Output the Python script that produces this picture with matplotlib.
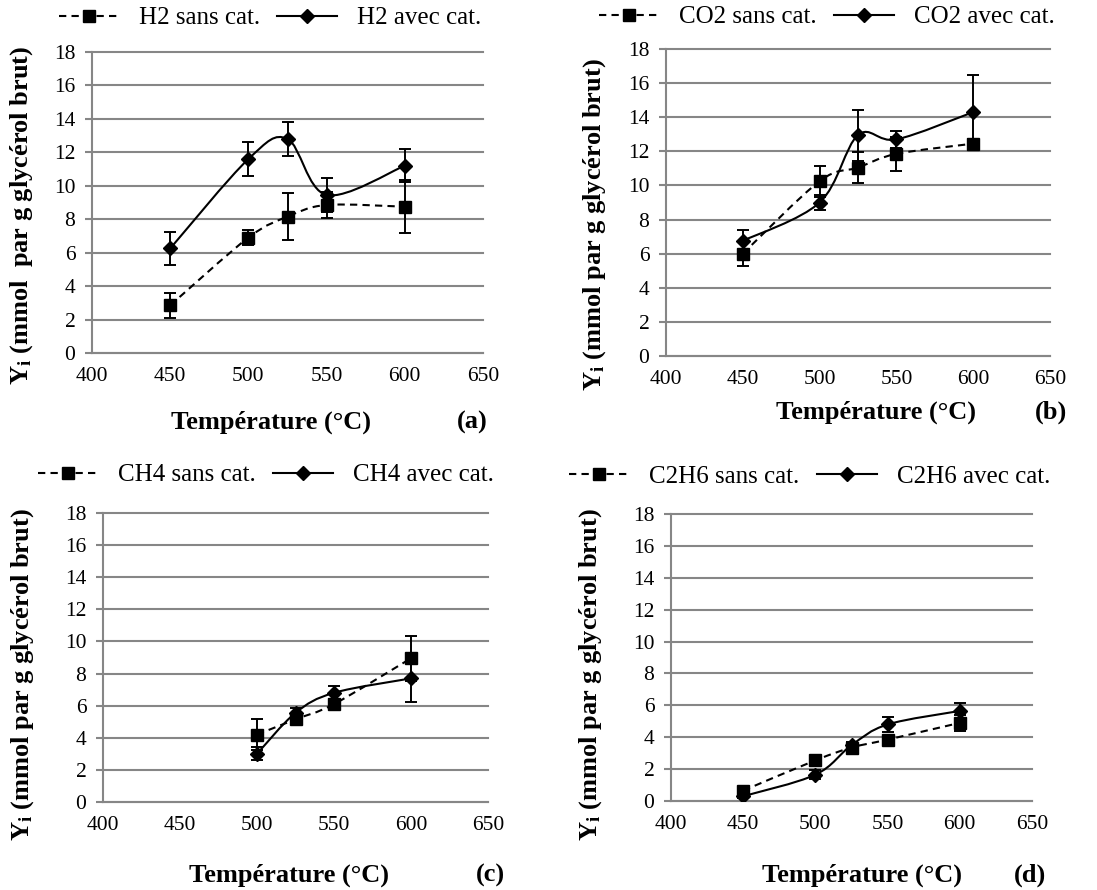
import numpy as np
import matplotlib
matplotlib.use('Agg')
import matplotlib.pyplot as plt
from matplotlib.path import Path
from matplotlib.patches import PathPatch
from matplotlib.lines import Line2D

plt.rcParams['font.family'] = ['Liberation Serif', 'DejaVu Serif']
plt.rcParams['mathtext.fontset'] = 'custom'
plt.rcParams['mathtext.rm'] = 'Liberation Serif'
plt.rcParams['mathtext.bf'] = 'Liberation Serif:bold'
plt.rcParams['mathtext.it'] = 'Liberation Serif:italic'

# ---------------- data ----------------
temp_h2 = [450, 500, 525, 550, 600]
h2_sans = [2.85, 6.9, 8.15, 8.85, 8.75]
h2_sans_err = [0.75, 0.45, 1.4, 0.75, 1.6]
h2_avec = [6.25, 11.6, 12.8, 9.45, 11.2]
h2_avec_err = [1.0, 1.0, 1.0, 1.0, 1.0]

temp_co2 = [450, 500, 525, 550, 600]
co2_sans = [6.0, 10.25, 11.05, 11.85, 12.45]
co2_sans_err = [0.75, 0.9, 0.9, 1.0, 0.3]
co2_avec = [6.75, 9.0, 12.95, 12.7, 14.3]
co2_avec_err = [0.65, 0.45, 1.5, 0.5, 2.2]

temp_ch4 = [500, 525, 550, 600]
ch4_sans = [4.2, 5.15, 6.1, 8.95]
ch4_sans_err = [0.95, 0.3, 0.3, 1.4]
ch4_avec = [3.0, 5.55, 6.8, 7.7]
ch4_avec_err = [0.4, 0.3, 0.45, 1.45]

temp_c2h6 = [450, 500, 525, 550, 600]
c2h6_sans = [0.65, 2.55, 3.35, 3.85, 4.9]
c2h6_sans_err = [0.15, 0.15, 0.2, 0.2, 0.5]
c2h6_avec = [0.3, 1.65, 3.5, 4.8, 5.65]
c2h6_avec_err = [0.1, 0.3, 0.2, 0.45, 0.5]

gas_names = ['H2', 'CO2', 'CH4', 'C2H6']
panel_tags = ['(a)', '(b)', '(c)', '(d)']
x_ticks = [400, 450, 500, 550, 600, 650]
y_ticks = [0, 2, 4, 6, 8, 10, 12, 14, 16, 18]

series = [
    (temp_h2, h2_sans, h2_sans_err, h2_avec, h2_avec_err),
    (temp_co2, co2_sans, co2_sans_err, co2_avec, co2_avec_err),
    (temp_ch4, ch4_sans, ch4_sans_err, ch4_avec, ch4_avec_err),
    (temp_c2h6, c2h6_sans, c2h6_sans_err, c2h6_avec, c2h6_avec_err),
]

# ---------------- layout (pixels) ----------------
W, H = 1097, 890
axes_px = [(92, 483, 52, 353), (666, 1050, 49, 356),
           (103, 488, 513, 802), (671, 1032, 514, 801)]
legend_px = [(270, 18), (827, 17), (266, 475), (810, 477)]
xlabel_px = [(271, 422), (876, 412), (289, 875), (862, 875)]
tag_px = [(472, 422), (1051, 412), (490, 875), (1030, 875)]
ylabel_px = [(22, 215), (595, 225), (23, 675), (591, 675)]
ylabel_texts = [r'$\mathbf{Y_i}$ (mmol  par g glycérol brut)',
                r'$\mathbf{Y_i}$ (mmol par g glycérol brut)',
                r'$\mathbf{Y_i}$ (mmol par g glycérol brut)',
                r'$\mathbf{Y_i}$ (mmol par g glycérol brut)']

GRID = '#868686'
DASH = (0, (3.5, 2.5))


def smooth_path(x, y):
    x = np.asarray(x, float)
    y = np.asarray(y, float)
    n = len(x)
    verts = [(x[0], y[0])]
    codes = [Path.MOVETO]
    for i in range(n - 1):
        xp, yp = (x[i - 1], y[i - 1]) if i > 0 else (x[i], y[i])
        xn, yn = (x[i + 2], y[i + 2]) if i + 2 < n else (x[i + 1], y[i + 1])
        c1 = (x[i] + (x[i + 1] - xp) / 6.0, y[i] + (y[i + 1] - yp) / 6.0)
        c2 = (x[i + 1] - (xn - x[i]) / 6.0, y[i + 1] - (yn - y[i]) / 6.0)
        verts += [c1, c2, (x[i + 1], y[i + 1])]
        codes += [Path.CURVE4] * 3
    return Path(verts, codes)


fig = plt.figure(figsize=(W / 100, H / 100), dpi=100)

for k in range(4):
    l, r, t, b = axes_px[k]
    ax = fig.add_axes([l / W, 1 - b / H, (r - l) / W, (b - t) / H])
    temps, s_y, s_e, a_y, a_e = series[k]

    ax.set_xlim(400, 650)
    ax.set_ylim(0, 18)
    ax.set_xticks(x_ticks)
    ax.set_yticks(y_ticks)
    ax.yaxis.grid(True, color=GRID, linewidth=1.5)
    ax.set_axisbelow(True)
    for gl in ax.get_ygridlines():
        gl.set_clip_on(False)
    for sp in ['top', 'right']:
        ax.spines[sp].set_visible(False)
    for sp in ['left', 'bottom']:
        ax.spines[sp].set_color(GRID)
        ax.spines[sp].set_linewidth(1.5)
    ax.tick_params(axis='y', direction='out', length=5, width=1.5, color=GRID,
                   labelsize=15.5, pad=7)
    ax.tick_params(axis='x', length=0, labelsize=15.5, pad=10)

    # smoothed lines
    ax.add_patch(PathPatch(smooth_path(temps, s_y), fill=False, edgecolor='black',
                           linewidth=1.5, linestyle=DASH, zorder=3))
    ax.add_patch(PathPatch(smooth_path(temps, a_y), fill=False, edgecolor='black',
                           linewidth=1.5, zorder=3))

    ax.errorbar(temps, s_y, yerr=s_e, fmt='s', color='black', markersize=8.5,
                ecolor='black', elinewidth=1.4, capsize=4.5, capthick=1.4, zorder=4)
    ax.errorbar(temps, a_y, yerr=a_e, fmt='D', color='black', markersize=7.5,
                ecolor='black', elinewidth=1.4, capsize=4.5, capthick=1.4, zorder=4)

    handles = [Line2D([], [], color='black', linewidth=1.5, linestyle=DASH,
                      marker='s', markersize=8.5),
               Line2D([], [], color='black', linewidth=1.5, linestyle='-',
                      marker='D', markersize=7.5)]
    labels = [gas_names[k] + ' sans cat.', gas_names[k] + ' avec cat.']
    lx, ly = legend_px[k]
    ax.legend(handles, labels, loc='center', ncol=2, frameon=False,
              bbox_to_anchor=(lx / W, 1 - ly / H), bbox_transform=fig.transFigure,
              fontsize=18, handlelength=2.4, handletextpad=0.8, columnspacing=0.7,
              borderpad=0, borderaxespad=0)

    xx, xy = xlabel_px[k]
    fig.text(xx / W, 1 - xy / H, 'Température (°C)', fontsize=19, fontweight='bold',
             ha='center', va='center')
    tx, ty = tag_px[k]
    fig.text(tx / W, 1 - ty / H, panel_tags[k], fontsize=19, fontweight='bold',
             ha='center', va='center')
    yx, yy = ylabel_px[k]
    fig.text(yx / W, 1 - yy / H, ylabel_texts[k], fontsize=19, fontweight='bold',
             rotation=90, ha='center', va='center')

fig.savefig('out.png', dpi=100)
